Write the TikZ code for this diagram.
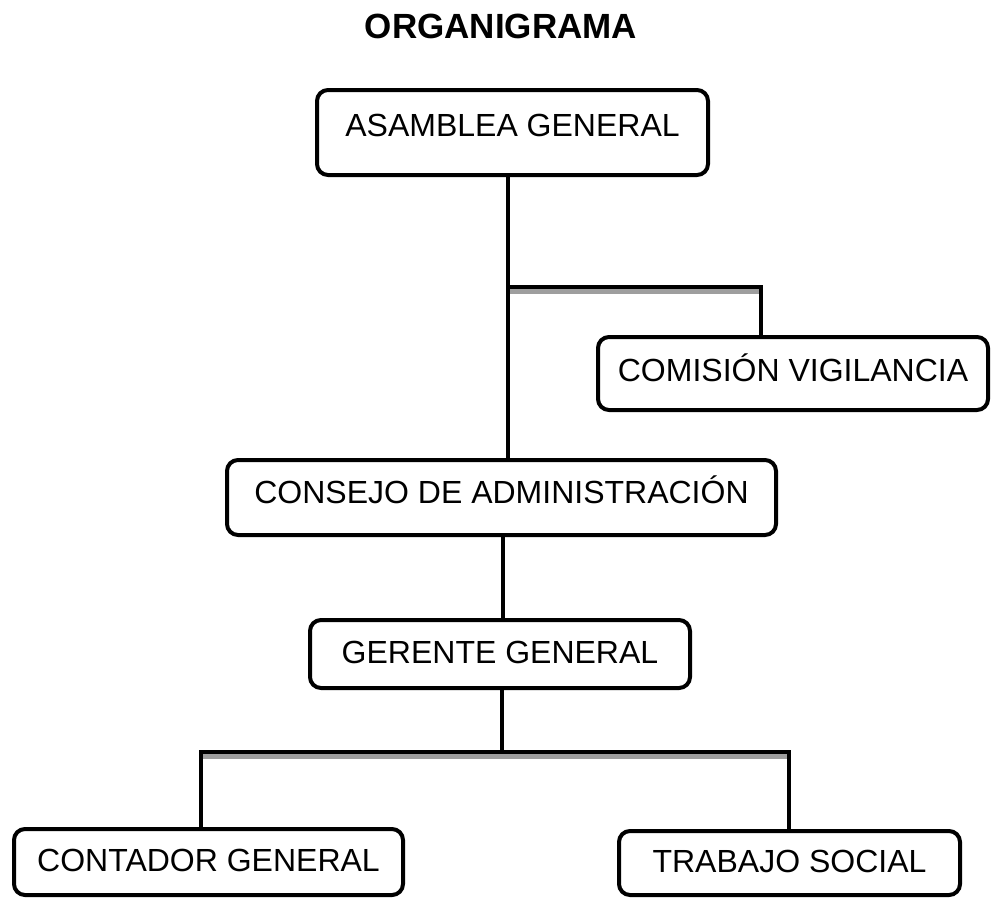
\documentclass[tikz,border=0pt]{standalone}
\usepackage{fontspec}
\setmainfont{Liberation Sans}
\begin{document}
\begin{tikzpicture}[x=1pt,y=-1pt,
  orgbox/.style={draw=black, line width=4pt, rounded corners=11pt, fill=white,
    inner sep=0pt, text height=23pt, text depth=0pt,
    font=\fontsize{32}{38}\selectfont},
  link/.style={draw=black, line width=4pt},
  shadowline/.style={draw=black!38, line width=5pt},
  titletext/.style={font=\fontsize{35}{42}\selectfont\bfseries, inner sep=0pt}]
\useasboundingbox (0,0) rectangle (992,899);
\node[titletext] (title) at (501,26) {ORGANIGRAMA};

\node[orgbox, minimum width=391pt, minimum height=85pt] (asam) at (512.5,132.5) {\raisebox{7.5pt}{ASAMBLEA GENERAL}};
\node[orgbox, minimum width=390pt, minimum height=73pt] (com) at (793,373.5) {\raisebox{3.5pt}{COMISIÓN VIGILANCIA}};
\node[orgbox, minimum width=549pt, minimum height=75pt] (cons) at (501.5,497.5) {\raisebox{6pt}{CONSEJO DE ADMINISTRACIÓN}};
\node[orgbox, minimum width=380pt, minimum height=68pt] (ger) at (500,654) {\raisebox{2.5pt}{GERENTE GENERAL}};
\node[orgbox, minimum width=389pt, minimum height=66pt] (cont) at (208.5,862) {\raisebox{2pt}{CONTADOR GENERAL}};
\node[orgbox, minimum width=341pt, minimum height=64pt] (trab) at (789.5,863) {\raisebox{2pt}{TRABAJO SOCIAL}};

\coordinate (j1) at (508,287);
\coordinate (c1) at (761,287);
\coordinate (s1a) at (510,291.5);
\coordinate (s1b) at (761,291.5);
\coordinate (j2) at (502,752);
\coordinate (l2) at (201,752);
\coordinate (r2) at (789,752);
\coordinate (s2a) at (201,756);
\coordinate (s2b) at (789,756);

\begin{scope}[on background layer/.style={}]
\draw[shadowline] (s1a) -- (s1b);
\draw[shadowline] (s2a) -- (s2b);
\end{scope}

\draw[link] (asam.south -| j1) -- (cons.north -| j1);
\draw[link] ([xshift=-2pt]j1) -- (c1) -- (c1 |- com.north);
\draw[link] (cons.south -| 503,0) -- (ger.north -| 503,0);
\draw[link] (ger.south -| j2) -- (j2);
\draw[link] ([xshift=-2pt]l2) -- ([xshift=2pt]r2);
\draw[link] (l2) -- (l2 |- cont.north);
\draw[link] (r2) -- (r2 |- trab.north);
\end{tikzpicture}
\end{document}
